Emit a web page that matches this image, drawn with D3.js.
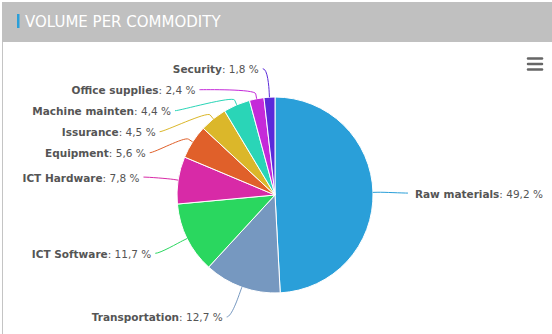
<!DOCTYPE html>
<html>
<head>
<meta charset="utf-8">
<script src="https://cdn.jsdelivr.net/npm/d3@7"></script>
<style>
  html, body { margin: 0; padding: 0; background: #fff; }
  svg { display: block; }
</style>
</head>
<body>
<svg id="chart" width="552" height="334"></svg>
<script>
// Commodity shares (percent), in drawing order clockwise from 12 o'clock
const categories = ["Raw materials", "Transportation", "ICT Software", "ICT Hardware",
  "Equipment", "Issurance", "Machine mainten", "Office supplies", "Security"];
const values = [49.2, 12.7, 11.7, 7.8, 5.6, 4.5, 4.4, 2.4, 1.8];
const valueLabels = ["49,2 %", "12,7 %", "11,7 %", "7,8 %", "5,6 %", "4,5 %", "4,4 %", "2,4 %", "1,8 %"];
const colors = ["#2a9fd9", "#7698c0", "#2ad75f", "#d82aa7", "#e0602a", "#dbb72a",
  "#2ad5b7", "#c42ad9", "#5b2ad9"];
const title = "VOLUME PER COMMODITY";

const W = 552, H = 334;
const svg = d3.select("#chart");

// Panel: header bar and left frame line
svg.append("rect").attr("x", 2).attr("y", 2).attr("width", W - 2).attr("height", 40)
  .attr("fill", "#c0c0c0");
svg.append("line").attr("x1", 2.5).attr("x2", 2.5).attr("y1", 42).attr("y2", H)
  .attr("stroke", "#c4c4c4").attr("stroke-width", 1);
svg.append("rect").attr("x", 17).attr("y", 14).attr("width", 2.5).attr("height", 14)
  .attr("fill", "#2a9fd9");
svg.append("text").attr("x", 25).attr("y", 27)
  .attr("font-family", "'DejaVu Sans', sans-serif")
  .attr("font-size", 15).attr("fill", "#fff").text(title);

// Menu button
const menu = svg.append("g").attr("stroke", "#666").attr("stroke-width", 2.5)
  .attr("stroke-linecap", "round");
[58.5, 64, 69.5].forEach(y => menu.append("line")
  .attr("x1", 528).attr("x2", 542).attr("y1", y).attr("y2", y));

// Pie geometry
const cx = 275, cy = 195, r = 98, distance = 30, connOffset = 5;
const data = categories.map((c, i) => ({ name: c, value: values[i], label: valueLabels[i], color: colors[i] }));
const pie = d3.pie().value(d => d.value).sort(null);
const arcs = pie(data);
const arc = d3.arc().innerRadius(0).outerRadius(r);

const g = svg.append("g").attr("transform", `translate(${cx},${cy})`);
g.selectAll("path.slice").data(arcs).join("path")
  .attr("class", "slice")
  .attr("d", arc)
  .attr("fill", d => d.data.color)
  .attr("stroke", "#fff").attr("stroke-width", 1).attr("stroke-linejoin", "round");

// Label placement: natural spot on a ring outside the pie, then spread vertically per side
const polar = (a, rad) => [cx + Math.sin(a) * rad, cy - Math.cos(a) * rad];
const labels = arcs.map(a => {
  const mid = (a.startAngle + a.endAngle) / 2;
  const [x, y] = polar(mid, r + distance);
  return { a, mid, x, y, natY: y, left: mid > Math.PI };
});

const minGap = 21;
function spread(list) {
  list.sort((p, q) => p.natY - q.natY);
  // push down from the top, then pull up from the bottom if needed
  for (let i = 1; i < list.length; i++)
    if (list[i].y < list[i - 1].y + minGap) list[i].y = list[i - 1].y + minGap;
  const bottom = cy + r + distance;
  for (let i = list.length - 1; i >= 0; i--) {
    const lim = i === list.length - 1 ? bottom : list[i + 1].y - minGap;
    if (list[i].y > lim) list[i].y = lim;
  }
}
spread(labels.filter(l => l.left));
spread(labels.filter(l => !l.left));

const R2 = r + distance;
labels.forEach(l => {
  if (Math.abs(l.y - l.natY) > 5) {
    const dy = Math.min(Math.abs(l.y - cy), R2);
    l.x = cx + (l.left ? -1 : 1) * Math.sqrt(R2 * R2 - dy * dy);
  }
  l.y += 1.5;
});

// Connectors
svg.append("g").selectAll("path").data(labels).join("path")
  .attr("fill", "none")
  .attr("stroke", l => l.a.data.color)
  .attr("stroke-width", 1)
  .attr("d", l => {
    const [bx, by] = polar(l.mid, r + connOffset);
    const [ex, ey] = polar(l.mid, r);
    const sx = l.x + (l.left ? -5 : 5);
    return `M${sx},${l.y} C${l.x},${l.y} ${2 * bx - ex},${2 * by - ey} ${bx},${by} L${ex},${ey}`;
  });

// Label texts
const lab = svg.append("g")
  .attr("font-family", "'DejaVu Sans', Verdana, sans-serif")
  .attr("font-size", 10.5).attr("fill", "#555");
lab.selectAll("text").data(labels).join("text")
  .attr("x", l => l.left ? l.x - 9 : l.x + 12)
  .attr("y", l => l.y + 4.5)
  .attr("text-anchor", l => l.left ? "end" : "start")
  .each(function (l) {
    const t = d3.select(this);
    t.append("tspan").attr("font-weight", "bold").text(l.a.data.name);
    t.append("tspan").text(": " + l.a.data.label);
  });
</script>
</body>
</html>
